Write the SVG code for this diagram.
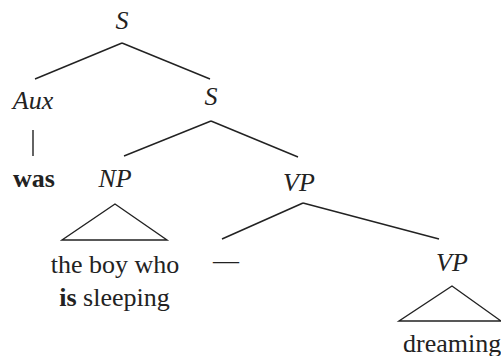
<svg xmlns="http://www.w3.org/2000/svg" width="501" height="356" viewBox="0 0 501 356" font-family="'Liberation Serif', 'DejaVu Serif', serif" font-size="26">
<style>
text{fill:#222}
.c{text-anchor:middle;font-style:italic}
.w{text-anchor:middle}
.b{font-weight:bold}
.e line,.e polygon{stroke:#222;stroke-width:1.4;fill:none}
</style>
<rect width="501" height="356" fill="#fff"/>
<g class="e" id="connectors">
<line x1="122" y1="43" x2="35" y2="79"/>
<line x1="122" y1="43" x2="210" y2="79"/>
<line x1="33" y1="130" x2="33" y2="156"/>
<line x1="211" y1="121" x2="124" y2="156"/>
<line x1="211" y1="121" x2="298" y2="157"/>
<polygon points="115,204 62,240 167,240"/>
<line x1="303" y1="203" x2="222" y2="239"/>
<line x1="303" y1="203" x2="439" y2="239"/>
<polygon points="452,286 399,321 501,321"/>
</g>
<g id="s-top"><text class="c" x="122" y="29">S</text></g>
<g id="aux"><text class="c" x="33" y="109">Aux</text></g>
<g id="s-mid"><text class="c" x="211" y="105">S</text></g>
<g id="was"><text class="w b" x="34" y="187">was</text></g>
<g id="np"><text class="c" x="115" y="187">NP</text></g>
<g id="vp"><text class="c" x="299" y="191">VP</text></g>
<g id="np-words"><text class="w" x="115" y="273">the boy who</text><text class="w" x="114.5" y="306"><tspan class="b">is</tspan> sleeping</text></g>
<g id="gap"><text x="213" y="269">—</text></g>
<g id="vp2"><text class="c" x="452" y="271">VP</text></g>
<g id="dreaming"><text x="403" y="352">dreaming</text></g>
</svg>
